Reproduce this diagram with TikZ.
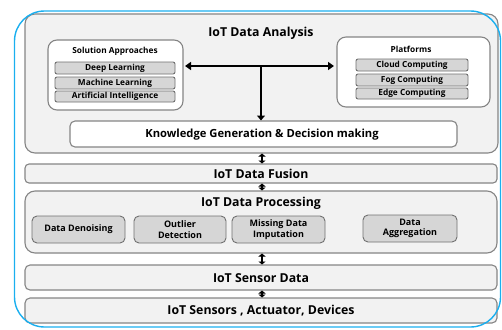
\documentclass[tikz,border=0pt]{standalone}
\usepackage{fontspec}
\setmainfont{Open Sans}
\usetikzlibrary{arrows.meta}
\definecolor{boxfill}{HTML}{F2F2F2}
\definecolor{boxline}{HTML}{858585}
\definecolor{itemfill}{HTML}{D6D6D6}
\definecolor{itemline}{HTML}{707070}
\definecolor{frameblue}{HTML}{1AAFEF}
\tikzset{
  layer/.style={draw=boxline, fill=boxfill, line width=1.1pt, rounded corners=10pt},
  sub/.style={draw=boxline, fill=white, line width=1.1pt, rounded corners=9pt},
  item/.style={draw=itemline, fill=itemfill, line width=0.9pt, rounded corners=2pt},
  pitem/.style={draw=itemline, fill=itemfill, line width=0.9pt, rounded corners=5pt},
  ltext/.style={font=\bfseries\fontsize{12.3}{14}\selectfont},
  ktext/.style={font=\bfseries\fontsize{11.2}{13}\selectfont},
  stext/.style={font=\bfseries\fontsize{8.3}{9}\selectfont},
  mtext/.style={font=\bfseries\fontsize{9}{10.5}\selectfont, align=center},
  bigarrow/.style={line width=2.6pt, -{Triangle[length=5pt,width=8pt]}},
  dblarrow/.style={line width=2.8pt, {Triangle[length=3pt,width=7pt]}-{Triangle[length=3pt,width=7pt]}},
}
\begin{document}
\begin{tikzpicture}[x=1pt,y=-1pt]
\useasboundingbox (0,0) rectangle (502,329);
% IoT Data Analysis
\draw[layer] (25,14) rectangle (498,153);
\node[ltext] (ta) at (261,33) {IoT Data Analysis};
% Solution approaches
\draw[sub] (48,40) rectangle (183,110);
\node[stext] (tsa) at (115,51) {Solution Approaches};
\draw[item] (55,62) rectangle (175,74); \node[stext] (dl) at (115,68) {Deep Learning};
\draw[item] (55,77) rectangle (175,89); \node[stext] (ml) at (115,83) {Machine Learning};
\draw[item] (55,91) rectangle (175,102); \node[stext] (ai) at (115,96.5) {Artificial Intelligence};
% Platforms
\draw[sub] (337,37) rectangle (490,107);
\node[stext] (tp) at (411,49) {Platforms};
\draw[item] (356,59) rectangle (468,71); \node[stext] (cc) at (412,65) {Cloud Computing};
\draw[item] (356,74) rectangle (468,86); \node[stext] (fc) at (412,80) {Fog Computing};
\draw[item] (356,88) rectangle (468,99); \node[stext] (ec) at (412,93.5) {Edge Computing};
% Knowledge
\draw[draw=boxline, fill=white, line width=1.1pt, rounded corners=5pt] (70,121) rectangle (457,147);
\node[ktext] (kg) at (262,135) {Knowledge Generation \& Decision making};
% arrows in analysis
\coordinate (la) at (185,66);
\coordinate (ra) at (334,66);
\coordinate (jn) at (261,66);
\coordinate (kt) at (261,120.5);
\draw[line width=2.6pt, {Triangle[length=6pt,width=8pt]}-{Triangle[length=6pt,width=8pt]}] (la) -- (ra);
\draw[bigarrow] (jn) -- (kt);
% Fusion
\draw[layer, rounded corners=4pt] (25,164) rectangle (497,183);
\node[ltext] (fu) at (261,173.5) {IoT Data Fusion};
% Processing
\draw[layer] (25,191) rectangle (497,253);
\node[ltext] (pr) at (261,203) {IoT Data Processing};
\draw[pitem] (32,216) rectangle (125,243); \node[mtext] (dd) at (78.5,229.5) {Data Denoising};
\draw[pitem] (134,216) rectangle (226,243); \node[mtext] (od) at (180,229.5) {Outlier\\Detection};
\draw[pitem] (232,216) rectangle (325,243); \node[mtext] (mi) at (278.5,229.5) {Missing Data\\Imputation};
\draw[pitem] (363,215) rectangle (457,242); \node[mtext] (da) at (410,228.5) {Data\\Aggregation};
% Sensor data
\draw[layer, rounded corners=5pt] (25,265) rectangle (497,290);
\node[ltext] (sd) at (261,278) {IoT Sensor Data};
% Sensors
\draw[layer, rounded corners=5pt] (25,298) rectangle (497,323);
\node[ltext] (sn) at (261,311) {IoT Sensors , Actuator, Devices};
% inter-layer arrows
\coordinate (a1) at (262,153.5); \coordinate (b1) at (262,163.5);
\coordinate (a2) at (262,183.5); \coordinate (b2) at (262,190.5);
\coordinate (a3) at (262,253.5); \coordinate (b3) at (262,264.5);
\coordinate (a4) at (262,290.5); \coordinate (b4) at (262,297.5);
\draw[dblarrow] (a1) -- (b1);
\draw[dblarrow] (a2) -- (b2);
\draw[dblarrow] (a3) -- (b3);
\draw[dblarrow] (a4) -- (b4);
% blue frame
\draw[frameblue, line width=1.4pt, rounded corners=30pt] (14.5,11) rectangle (500.5,327);
\end{tikzpicture}
\end{document}
